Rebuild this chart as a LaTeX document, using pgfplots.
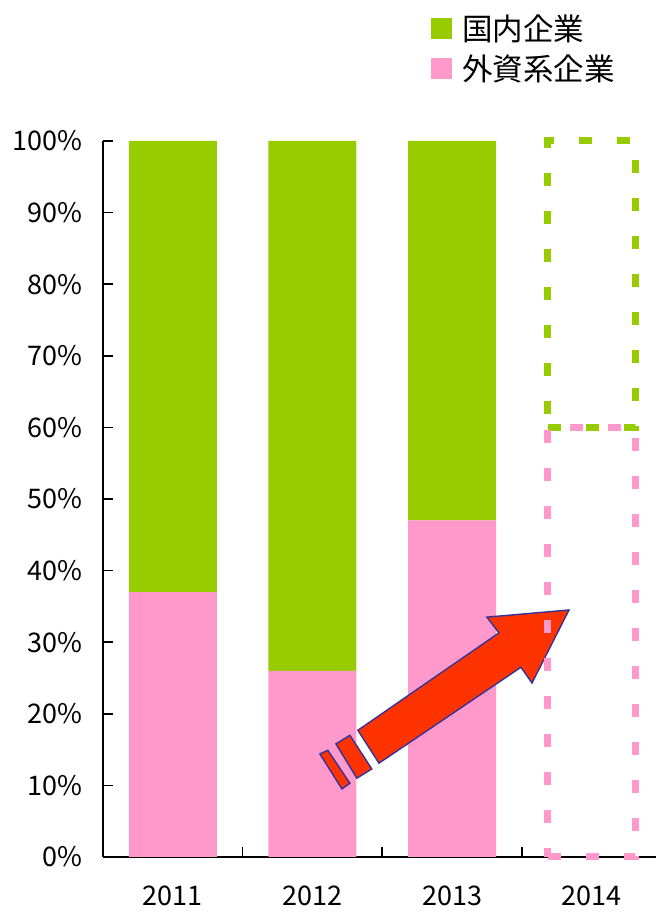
\documentclass[border=0pt]{standalone}
\usepackage{pgfplots}
\pgfplotsset{compat=1.18}
\usepackage{fontspec}
\setmainfont{Noto Sans CJK JP}

\definecolor{domgreen}{HTML}{99CC00}
\definecolor{forpink}{HTML}{FF99CC}
\definecolor{arrowred}{HTML}{FF3300}
\definecolor{arrowedge}{HTML}{333399}

\pgfplotsset{
  sharedframe/.style={
    at={(103pt,60pt)}, anchor=south west,
    scale only axis, width=553pt, height=716pt,
    xmin=-0.5, xmax=3.46, ymin=0, ymax=100,
    clip=false,
    ybar stacked, bar width=88pt,
  },
  sqlegend/.style={
    legend image code/.code={\fill[##1] (0pt,-10.5pt) rectangle (21pt,10.5pt);}
  },
}

\begin{document}
\begin{tikzpicture}
\path[use as bounding box] (0,0) rectangle (656pt,917pt);

% solid shares for 2011-2013
\begin{axis}[sharedframe,
  axis x line=bottom, axis y line=left,
  axis line style={-, line width=1.6pt, black},
  tick align=inside, major tick length=10pt,
  tick style={line width=1.6pt, black},
  /pgf/number format/assume math mode=true,
  ytick={0,10,...,100},
  yticklabel={\pgfmathprintnumber{\tick}\%},
  yticklabel style={font=\fontsize{27}{27}\selectfont, xshift=-17pt},
  xtick={0.5,1.5,2.5}, xticklabels={},
  extra x ticks={0,1,2,3},
  extra x tick labels={2011,2012,2013,2014},
  extra x tick style={major tick length=0pt,
    tick label style={font=\fontsize{27}{27}\selectfont, yshift=-25pt}},
  reverse legend,
  legend cell align=left,
  legend style={at={(0.593,1.177)}, anchor=north west, draw=none, fill=none,
    font=\fontsize{30.5}{30.5}\selectfont, row sep=13pt, inner sep=0pt,
    nodes={inner sep=0pt},
    /tikz/every odd column/.append style={column sep=10pt}},
]
\addplot[fill=forpink, draw=none, sqlegend] coordinates {(0,37) (1,26) (2,47)};
\addlegendentry{外資系企業}
\addplot[fill=domgreen, draw=none, sqlegend] coordinates {(0,63) (1,74) (2,53)};
\addlegendentry{国内企業}
\end{axis}

% 2014 outlook as dashed outlines, plus the growth arrow
\begin{axis}[sharedframe, hide axis]
\addplot[fill=none, draw=forpink, line width=7pt, dash pattern=on 13pt off 25pt]
  coordinates {(3,60)};
\addplot[fill=none, draw=domgreen, line width=7pt, dash pattern=on 13pt off 25pt]
  coordinates {(3,40)};
\draw[fill=arrowred, draw=arrowedge, line width=1.4pt, line join=miter]
  (axis cs:1.325,17.7) -- (axis cs:2.335,31.3) -- (axis cs:2.249,33.5)
  -- (axis cs:2.837,34.5) -- (axis cs:2.572,24.3) -- (axis cs:2.493,26.5)
  -- (axis cs:1.476,13.1) -- cycle;
\draw[fill=arrowred, draw=arrowedge, line width=1.4pt]
  (axis cs:1.168,15.8) -- (axis cs:1.268,17.0) -- (axis cs:1.425,12.3)
  -- (axis cs:1.318,11.0) -- cycle;
\draw[fill=arrowred, draw=arrowedge, line width=1.4pt]
  (axis cs:1.053,14.4) -- (axis cs:1.110,14.9) -- (axis cs:1.268,10.3)
  -- (axis cs:1.211,9.5) -- cycle;
\end{axis}
\end{tikzpicture}
\end{document}
